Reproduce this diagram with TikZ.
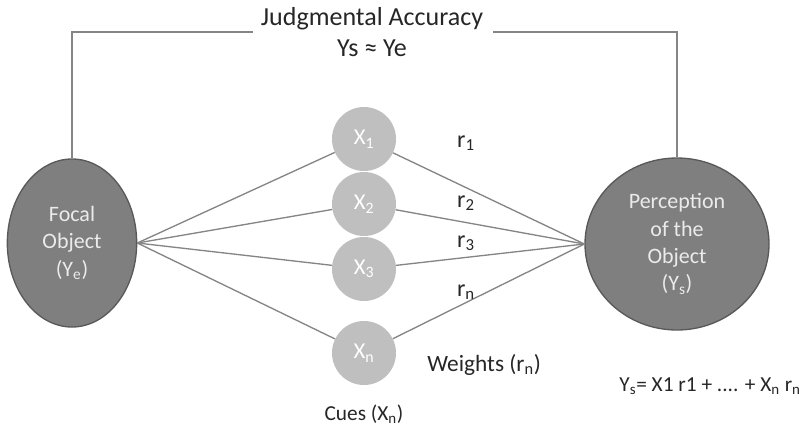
\documentclass[tikz,border=0pt]{standalone}
\usepackage{fontspec}
\setmainfont{Carlito}
\usetikzlibrary{shapes.geometric}
\definecolor{bigfill}{HTML}{7F7F7F}
\definecolor{bigedge}{HTML}{595959}
\definecolor{cuefill}{HTML}{BFBFBF}
\definecolor{linegray}{HTML}{858585}
\definecolor{txt}{HTML}{262626}
\newcommand{\lsub}[1]{\textsubscript{#1}}
\tikzset{
  big/.style={ellipse, draw=bigedge, line width=1pt, fill=bigfill, text=white!92!black, inner sep=0pt, align=center, font=\fontsize{16.5}{20.5}\selectfont},
  cue/.style={circle, fill=cuefill, text=white, inner sep=0pt, minimum size=48pt, font=\fontsize{17}{20}\selectfont},
  conn/.style={draw=linegray, line width=1pt},
  lab/.style={text=txt, inner sep=0pt, font=\fontsize{16}{19}\selectfont},
  rlab/.style={text=txt, inner sep=0pt, font=\fontsize{18}{21}\selectfont},
  toplab/.style={text=txt, inner sep=0pt, align=center, font=\fontsize{19.5}{23}\selectfont}
}
\begin{document}
\begin{tikzpicture}[x=0.75pt,y=-0.75pt]
\useasboundingbox (0,0) rectangle (802,429);
\node[big, minimum width=97pt, minimum height=126pt] (focal) at (72,243) {Focal\\Object\\(Y\lsub{e})};
\node[big, minimum width=138pt, minimum height=129pt] (perc) at (677,244) {Perception\\of the\\Object\\(Y\lsub{s})};
\node[cue] (x1) at (364,139) {X\lsub{1}};
\node[cue] (x2) at (364,204) {X\lsub{2}};
\node[cue] (x3) at (364,269) {X\lsub{3}};
\node[cue] (xn) at (364,353) {X\lsub{n}};
\foreach \c in {x1,x2,x3,xn}{
  \draw[conn] (focal.east) -- (\c);
  \draw[conn] (\c) -- (perc.west);
}
\node[toplab] (title) at (372,19) {Judgmental Accuracy};
\node[toplab] (approx) at (372,48) {Ys ≈ Ye};
\coordinate (tl) at (253,32);
\coordinate (tr) at (493,32);
\draw[conn] (focal.north) |- (tl);
\draw[conn] (perc.north) |- (tr);
\node[rlab] (r1) at (466,143) {r\lsub{1}};
\node[rlab] (r2) at (466,203) {r\lsub{2}};
\node[rlab] (r3) at (466,243) {r\lsub{3}};
\node[rlab] (rn) at (466,292) {r\lsub{n}};
\node[lab, anchor=west, font=\fontsize{17.5}{20}\selectfont] (weights) at (427,365) {Weights (r\lsub{n})};
\node[lab] (cues) at (364,414) {Cues (X\lsub{n})};
\node[lab, anchor=east] (formula) at (801,386) {Y\lsub{s}= X1 r1 + .... + X\lsub{n} r\lsub{n}};
\end{tikzpicture}
\end{document}
